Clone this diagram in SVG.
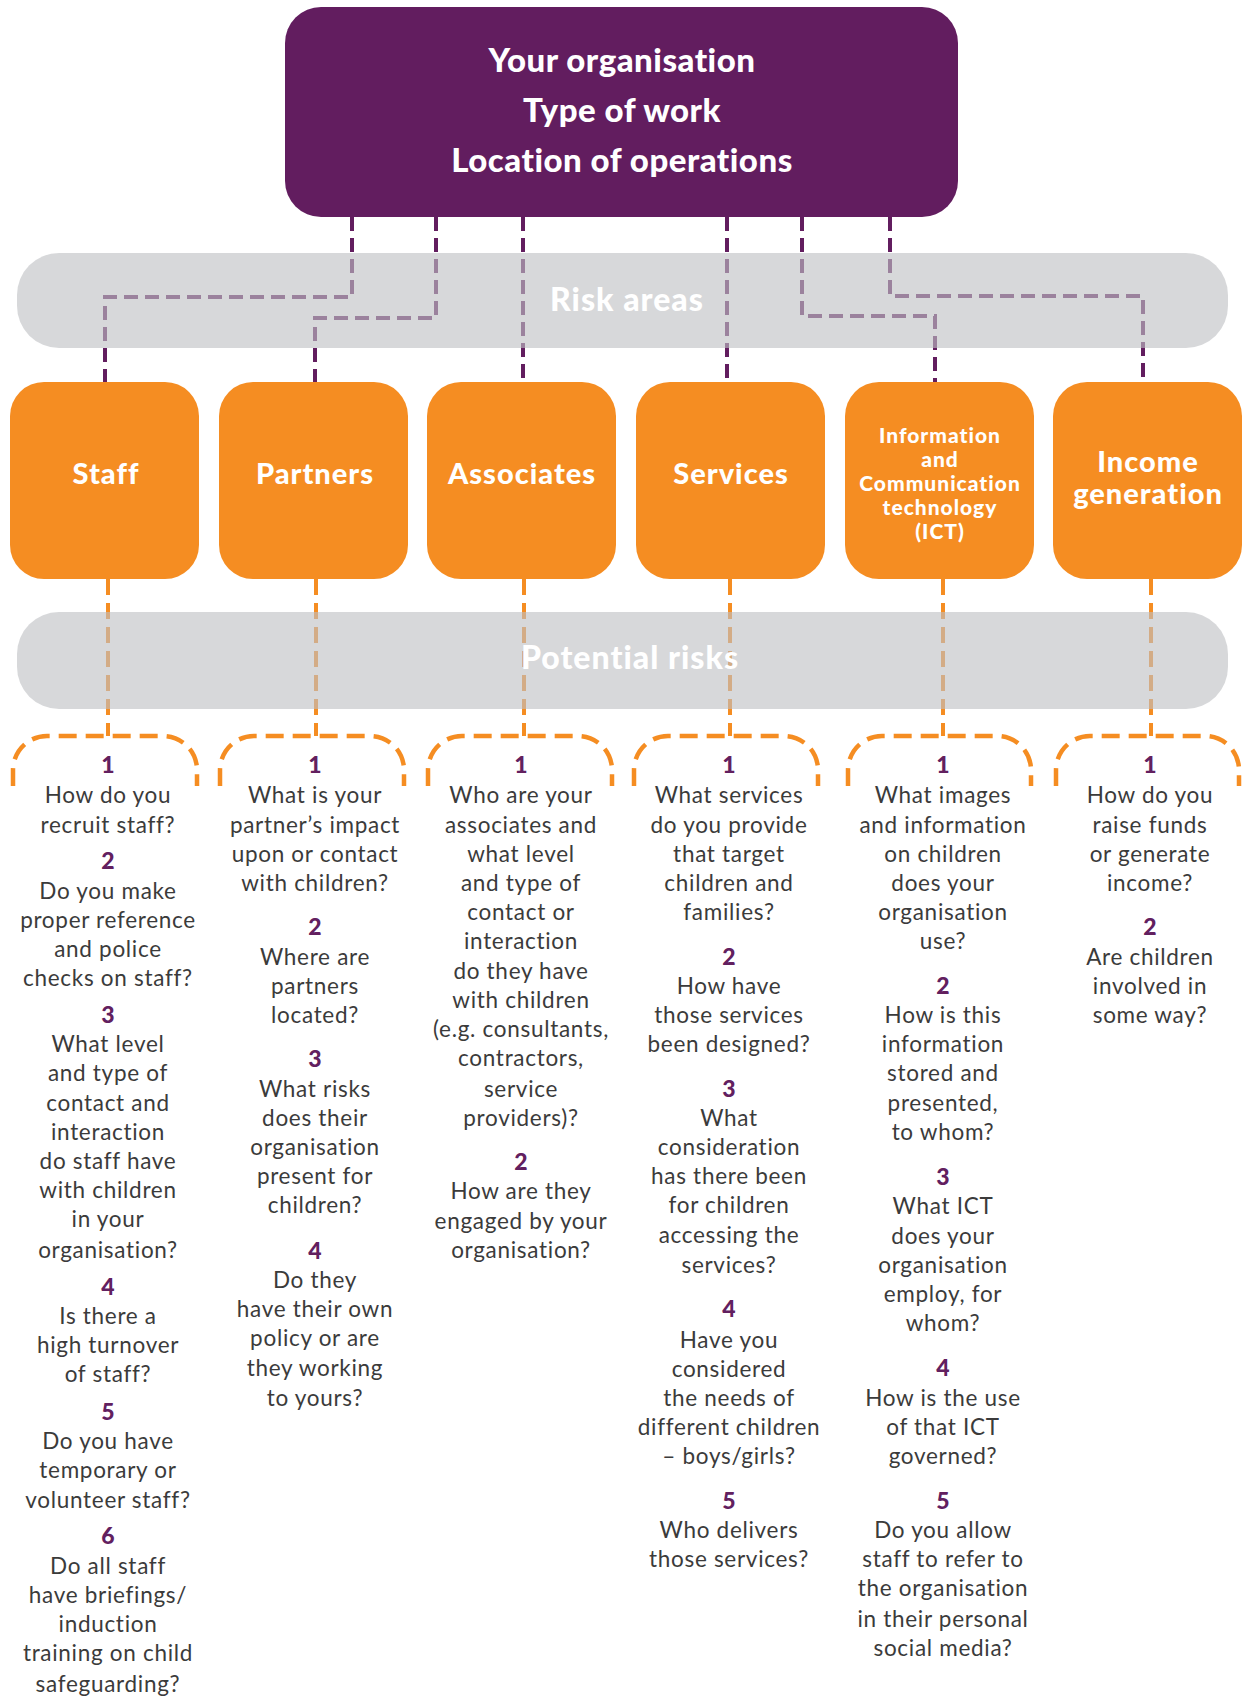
<svg xmlns="http://www.w3.org/2000/svg" width="1242" height="1697" viewBox="0 0 1242 1697">
<defs>
<style>
.pc{fill:none;stroke:#621d5f;stroke-width:4;stroke-dasharray:14 7}
.oc{fill:none;stroke:#f58d22;stroke-width:4;stroke-dasharray:16 8}
.br{fill:none;stroke:#f58d22;stroke-width:4.5;stroke-dasharray:18 9}
.band{fill:#bec0c4;fill-opacity:0.62}
.bandt{font-family:Lato,"Liberation Sans",sans-serif;font-weight:900;font-size:32px;letter-spacing:1px;fill:#ffffff;text-anchor:middle}
.top{fill:#621d5f}
.topt{font-family:Lato,"Liberation Sans",sans-serif;font-weight:900;font-size:33px;letter-spacing:0.5px;fill:#ffffff;text-anchor:middle}
.ob{fill:#f58d22}
.obt{font-family:Lato,"Liberation Sans",sans-serif;font-weight:900;font-size:29px;letter-spacing:1px;fill:#ffffff;text-anchor:middle}
.obs{font-family:Lato,"Liberation Sans",sans-serif;font-weight:900;font-size:21px;letter-spacing:1px;fill:#ffffff;text-anchor:middle}
.q{font-family:Lato,"Liberation Sans",sans-serif;font-size:22.5px;letter-spacing:0.7px;fill:#3b3b3b;text-anchor:middle}
.n{font-family:Lato,"Liberation Sans",sans-serif;font-weight:900;font-size:23px;fill:#62205f;text-anchor:middle}
</style>
</defs>

<g id="connectors">
<path class="pc" d="M352 217 V297 H105 V382"/>
<path class="pc" d="M436 217 V318 H315 V382"/>
<path class="pc" d="M523 217 V382"/>
<path class="pc" d="M727 217 V382"/>
<path class="pc" d="M802 217 V316 H935 V382"/>
<path class="pc" d="M890 217 V296 H1143 V382"/>
<path class="oc" d="M108 579 V736"/>
<path class="oc" d="M316 579 V736"/>
<path class="oc" d="M524 579 V736"/>
<path class="oc" d="M730 579 V736"/>
<path class="oc" d="M943 579 V736"/>
<path class="oc" d="M1151 579 V736"/>
</g>

<g id="risk-areas">
<rect class="band" x="17" y="253" width="1211" height="95" rx="42"/>
<text class="bandt" x="627" y="311">Risk areas</text>
</g>
<g id="potential-risks">
<rect class="band" x="17" y="612" width="1211" height="97" rx="42"/>
<text class="bandt" x="630" y="669">Potential risks</text>
</g>

<g id="organisation">
<rect class="top" x="285" y="7" width="673" height="210" rx="36"/>
<text class="topt" x="622" y="72">Your organisation</text>
<text class="topt" x="622" y="122">Type of work</text>
<text class="topt" x="622" y="172">Location of operations</text>
</g>

<g id="staff"><rect class="ob" x="10" y="382" width="189" height="197" rx="34"/><text class="obt" x="106" y="484">Staff</text></g>
<g id="partners"><rect class="ob" x="219" y="382" width="189" height="197" rx="34"/><text class="obt" x="315" y="484">Partners</text></g>
<g id="associates"><rect class="ob" x="427" y="382" width="189" height="197" rx="34"/><text class="obt" x="522" y="484">Associates</text></g>
<g id="services"><rect class="ob" x="636" y="382" width="189" height="197" rx="34"/><text class="obt" x="731" y="484">Services</text></g>
<g id="ict"><rect class="ob" x="845" y="382" width="189" height="197" rx="34"/>
<text class="obs" x="940" y="443">Information</text>
<text class="obs" x="940" y="467">and</text>
<text class="obs" x="940" y="491">Communication</text>
<text class="obs" x="940" y="515">technology</text>
<text class="obs" x="940" y="539">(ICT)</text></g>
<g id="income"><rect class="ob" x="1053" y="382" width="189" height="197" rx="34"/>
<text class="obt" x="1148" y="472">Income</text>
<text class="obt" x="1148" y="504">generation</text></g>

<g id="staff-risks">
<path class="br" d="M13 786 V770 A34 34 0 0 1 47 736 H163 A34 34 0 0 1 197 770 V786"/>
<text class="n" x="108" y="773">1</text>
<text class="q" x="108" y="803">How do you</text>
<text class="q" x="108" y="832.5">recruit staff?</text>
<text class="n" x="108" y="869">2</text>
<text class="q" x="108" y="898.5">Do you make</text>
<text class="q" x="108" y="928">proper reference</text>
<text class="q" x="108" y="957">and police</text>
<text class="q" x="108" y="986">checks on staff?</text>
<text class="n" x="108" y="1023">3</text>
<text class="q" x="108" y="1052">What level</text>
<text class="q" x="108" y="1081">and type of</text>
<text class="q" x="108" y="1110.6">contact and</text>
<text class="q" x="108" y="1140">interaction</text>
<text class="q" x="108" y="1169">do staff have</text>
<text class="q" x="108" y="1198">with children</text>
<text class="q" x="108" y="1227">in your</text>
<text class="q" x="108" y="1257.7">organisation?</text>
<text class="n" x="108" y="1294.5">4</text>
<text class="q" x="108" y="1324">Is there a</text>
<text class="q" x="108" y="1353">high turnover</text>
<text class="q" x="108" y="1382">of staff?</text>
<text class="n" x="108" y="1420">5</text>
<text class="q" x="108" y="1449">Do you have</text>
<text class="q" x="108" y="1478">temporary or</text>
<text class="q" x="108" y="1508">volunteer staff?</text>
<text class="n" x="108" y="1544">6</text>
<text class="q" x="108" y="1574">Do all staff</text>
<text class="q" x="108" y="1603">have briefings/</text>
<text class="q" x="108" y="1632">induction</text>
<text class="q" x="108" y="1661">training on child</text>
<text class="q" x="108" y="1692">safeguarding?</text>
</g>

<g id="partners-risks">
<path class="br" d="M220 786 V770 A34 34 0 0 1 254 736 H370 A34 34 0 0 1 404 770 V786"/>
<text class="n" x="315" y="773">1</text>
<text class="q" x="315" y="803">What is your</text>
<text class="q" x="315" y="832.5">partner’s impact</text>
<text class="q" x="315" y="862">upon or contact</text>
<text class="q" x="315" y="891">with children?</text>
<text class="n" x="315" y="935">2</text>
<text class="q" x="315" y="964.5">Where are</text>
<text class="q" x="315" y="994">partners</text>
<text class="q" x="315" y="1023">located?</text>
<text class="n" x="315" y="1067">3</text>
<text class="q" x="315" y="1096.5">What risks</text>
<text class="q" x="315" y="1125.7">does their</text>
<text class="q" x="315" y="1155">organisation</text>
<text class="q" x="315" y="1184">present for</text>
<text class="q" x="315" y="1213">children?</text>
<text class="n" x="315" y="1259">4</text>
<text class="q" x="315" y="1288">Do they</text>
<text class="q" x="315" y="1317">have their own</text>
<text class="q" x="315" y="1346">policy or are</text>
<text class="q" x="315" y="1375.6">they working</text>
<text class="q" x="315" y="1406">to yours?</text>
</g>

<g id="associates-risks">
<path class="br" d="M428 786 V770 A34 34 0 0 1 462 736 H578 A34 34 0 0 1 612 770 V786"/>
<text class="n" x="521" y="773">1</text>
<text class="q" x="521" y="803">Who are your</text>
<text class="q" x="521" y="832.5">associates and</text>
<text class="q" x="521" y="862">what level</text>
<text class="q" x="521" y="891">and type of</text>
<text class="q" x="521" y="920">contact or</text>
<text class="q" x="521" y="949">interaction</text>
<text class="q" x="521" y="978.6">do they have</text>
<text class="q" x="521" y="1008">with children</text>
<text class="q" x="521" y="1037">(e.g. consultants,</text>
<text class="q" x="521" y="1066">contractors,</text>
<text class="q" x="521" y="1096.5">service</text>
<text class="q" x="521" y="1125.7">providers)?</text>
<text class="n" x="521" y="1170">2</text>
<text class="q" x="521" y="1199">How are they</text>
<text class="q" x="521" y="1228.5">engaged by your</text>
<text class="q" x="521" y="1257.7">organisation?</text>
</g>

<g id="services-risks">
<path class="br" d="M634 786 V770 A34 34 0 0 1 668 736 H784 A34 34 0 0 1 818 770 V786"/>
<text class="n" x="729" y="773">1</text>
<text class="q" x="729" y="803">What services</text>
<text class="q" x="729" y="832.5">do you provide</text>
<text class="q" x="729" y="862">that target</text>
<text class="q" x="729" y="891">children and</text>
<text class="q" x="729" y="920">families?</text>
<text class="n" x="729" y="964.5">2</text>
<text class="q" x="729" y="994">How have</text>
<text class="q" x="729" y="1023">those services</text>
<text class="q" x="729" y="1052">been designed?</text>
<text class="n" x="729" y="1096.5">3</text>
<text class="q" x="729" y="1125.7">What</text>
<text class="q" x="729" y="1155">consideration</text>
<text class="q" x="729" y="1184">has there been</text>
<text class="q" x="729" y="1213">for children</text>
<text class="q" x="729" y="1242.6">accessing the</text>
<text class="q" x="729" y="1273">services?</text>
<text class="n" x="729" y="1317">4</text>
<text class="q" x="729" y="1347.5">Have you</text>
<text class="q" x="729" y="1376.7">considered</text>
<text class="q" x="729" y="1406">the needs of</text>
<text class="q" x="729" y="1435">different children</text>
<text class="q" x="729" y="1464">– boys/girls?</text>
<text class="n" x="729" y="1509">5</text>
<text class="q" x="729" y="1538">Who delivers</text>
<text class="q" x="729" y="1567">those services?</text>
</g>

<g id="ict-risks">
<path class="br" d="M848 786 V770 A34 34 0 0 1 882 736 H997 A34 34 0 0 1 1031 770 V786"/>
<text class="n" x="943" y="773">1</text>
<text class="q" x="943" y="803">What images</text>
<text class="q" x="943" y="832.5">and information</text>
<text class="q" x="943" y="862">on children</text>
<text class="q" x="943" y="891">does your</text>
<text class="q" x="943" y="920">organisation</text>
<text class="q" x="943" y="949">use?</text>
<text class="n" x="943" y="994">2</text>
<text class="q" x="943" y="1023">How is this</text>
<text class="q" x="943" y="1052">information</text>
<text class="q" x="943" y="1081">stored and</text>
<text class="q" x="943" y="1110.6">presented,</text>
<text class="q" x="943" y="1140">to whom?</text>
<text class="n" x="943" y="1185">3</text>
<text class="q" x="943" y="1214">What ICT</text>
<text class="q" x="943" y="1243.6">does your</text>
<text class="q" x="943" y="1273">organisation</text>
<text class="q" x="943" y="1302">employ, for</text>
<text class="q" x="943" y="1331">whom?</text>
<text class="n" x="943" y="1375.6">4</text>
<text class="q" x="943" y="1406">How is the use</text>
<text class="q" x="943" y="1435">of that ICT</text>
<text class="q" x="943" y="1464">governed?</text>
<text class="n" x="943" y="1509">5</text>
<text class="q" x="943" y="1538">Do you allow</text>
<text class="q" x="943" y="1567">staff to refer to</text>
<text class="q" x="943" y="1596">the organisation</text>
<text class="q" x="943" y="1627">in their personal</text>
<text class="q" x="943" y="1656">social media?</text>
</g>

<g id="income-risks">
<path class="br" d="M1056 786 V770 A34 34 0 0 1 1090 736 H1205 A34 34 0 0 1 1239 770 V786"/>
<text class="n" x="1150" y="773">1</text>
<text class="q" x="1150" y="803">How do you</text>
<text class="q" x="1150" y="832.5">raise funds</text>
<text class="q" x="1150" y="862">or generate</text>
<text class="q" x="1150" y="891">income?</text>
<text class="n" x="1150" y="935">2</text>
<text class="q" x="1150" y="964.5">Are children</text>
<text class="q" x="1150" y="994">involved in</text>
<text class="q" x="1150" y="1023">some way?</text>
</g>
</svg>
